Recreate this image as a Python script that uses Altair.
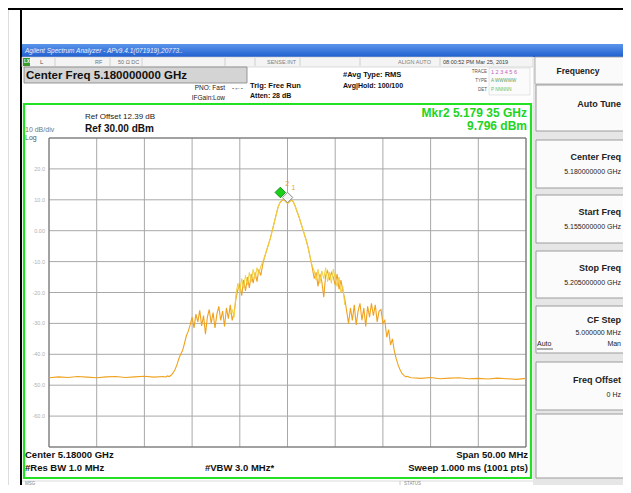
import altair as alt
import numpy as np
import pandas as pd

# ---------------- data ----------------
CENTER_GHZ = 5.18
SPAN_MHZ = 50.0
REF_DBM = 30.0
DB_PER_DIV = 10.0

# noise floor (1 MHz spacing) left and right of the signal
floor_left_offsets = [-25, -24, -23, -22, -21, -20, -19, -18, -17, -16, -15, -14, -13]
floor_left_levels = [-47.6, -47.3, -47.5, -47.2, -47.4, -47.6, -47.3, -47.2, -47.5, -47.3, -47.1, -47.4, -47.2]
floor_right_offsets = [13, 14, 15, 16, 17, 18, 19, 20, 21, 22, 23, 24, 25]
floor_right_levels = [-47.6, -47.8, -47.5, -47.9, -47.7, -47.6, -47.9, -47.8, -48.0, -47.7, -47.9, -48.1, -47.8]

# trace 1 (orange), -12.8 .. +12.8 MHz, 0.2 MHz spacing
trace_orange_levels = [
    -47.4, -47.0, -47.2, -46.8, -46.0, -45.0, -43.5, -41.5, -40.0, -38.8,   # -12.8 .. -11.0
    -36.5, -34.0, -32.5, -30.5, -28.0, -31.5, -27.0, -29.5, -25.8, -30.8,   # -10.8 .. -9.0
    -27.5, -33.5, -28.0, -25.5, -30.0, -26.5, -31.5, -27.0, -24.5, -29.0,   # -8.8 .. -7.0
    -26.0, -31.0, -25.0, -28.5, -24.0, -29.0, -26.5, -22.0, -19.0, -17.5,   # -6.8 .. -5.0
    -21.0, -16.0, -19.5, -15.0, -18.5, -14.0, -17.0, -13.5, -16.5, -12.5,   # -4.8 .. -3.0
    -14.5, -11.0, -8.5, -6.5, -4.5, -2.5, 0.0, 2.5, 5.0, 7.5,               # -2.8 .. -1.0
    9.0, 9.8, 10.0, 9.5, 8.8, 9.3, 9.9, 9.4, 8.0, 6.2,                      # -0.8 .. 1.0
    4.5, 2.5, 0.5, -1.5, -3.5, -6.0, -9.0, -12.0, -15.5, -13.5,             # 1.2 .. 3.0
    -18.0, -14.0, -16.5, -21.5, -14.5, -13.0, -16.0, -13.5, -15.0, -17.5,   # 3.2 .. 5.0
    -14.0, -19.0, -16.0, -19.5, -22.0, -26.0, -30.0, -25.0, -29.0, -24.0,   # 5.2 .. 7.0
    -30.5, -26.0, -23.5, -29.0, -25.0, -31.0, -24.5, -28.0, -23.5, -27.5,   # 7.2 .. 9.0
    -24.0, -29.5, -26.0, -25.5, -30.0, -29.0, -34.5, -32.0, -37.0, -35.0,   # 9.2 .. 11.0
    -39.0, -41.5, -43.5, -45.0, -46.2, -46.8, -47.3, -47.1, -47.5,          # 11.2 .. 12.8
]
# trace 2 (yellow), -6.0 .. +6.0 MHz, 0.2 MHz spacing
trace_yellow_levels = [
    -27.0, -25.5, -28.0, -20.5, -17.0, -20.0, -15.5, -18.5, -14.5, -17.5,   # -6.0 .. -4.2
    -13.5, -16.5, -12.5, -15.5, -12.0, -14.0, -11.5, -10.0, -8.5, -6.5,     # -4.0 .. -2.2
    -4.5, -2.5, 0.0, 2.5, 5.0, 7.5, 9.0, 9.8, 10.0, 9.5,                    # -2.0 .. -0.2
    8.8, 9.3, 9.9, 9.4, 8.0, 6.2, 4.5, 2.5, 0.5, -1.5,                      # 0.0 .. 1.8
    -3.5, -6.0, -9.0, -11.5, -13.0, -16.0, -12.5, -17.0, -13.0, -15.5,      # 2.0 .. 3.8
    -12.0, -16.5, -13.5, -17.0, -12.5, -15.5, -18.0, -15.0, -20.0, -18.0,   # 4.0 .. 5.8
    -24.0,                                                                  # 6.0
]

marker_names = ["1", "2"]
marker_freqs = [5.18000, 5.17935]
marker_levels = [8.8, 9.796]

y_tick_values = [20, 10, 0, -10, -20, -30, -40, -50, -60]
y_tick_labels = ["20.0", "10.0", "0.00", "-10.0", "-20.0", "-30.0", "-40.0", "-50.0", "-60.0"]
grid_x_offsets = [-25, -20, -15, -10, -5, 0, 5, 10, 15, 20, 25]
grid_y_values = [30, 20, 10, 0, -10, -20, -30, -40, -50, -60, -70]

# ---------------- tables ----------------
mid_offsets = list(np.round(-12.8 + 0.2 * np.arange(len(trace_orange_levels)), 1))
orange_df = pd.DataFrame({
    "freq": [CENTER_GHZ + o / 1000 for o in floor_left_offsets + mid_offsets + floor_right_offsets],
    "level": floor_left_levels + trace_orange_levels + floor_right_levels,
})
y_offsets = list(np.round(-6.0 + 0.2 * np.arange(len(trace_yellow_levels)), 1))
yellow_df = pd.DataFrame({
    "freq": [CENTER_GHZ + o / 1000 for o in y_offsets],
    "level": trace_yellow_levels,
})
marker_df = pd.DataFrame({"name": marker_names, "freq": marker_freqs, "level": marker_levels})
ytick_df = pd.DataFrame({"level": y_tick_values, "label": y_tick_labels})
gx_df = pd.DataFrame({"freq": [CENTER_GHZ + o / 1000 for o in grid_x_offsets]})
gy_df = pd.DataFrame({"level": grid_y_values})

ONE = pd.DataFrame({"k": [0]})

FONT = "Liberation Sans"
OFF = 8  # page margin


def P(v):
    return v - OFF


# plot area in page pixels
PX0, PX1, PY0, PY1 = 49, 526, 138, 447
xscale = alt.Scale(domain=[CENTER_GHZ - SPAN_MHZ / 2000, CENTER_GHZ + SPAN_MHZ / 2000],
                   range=[P(PX0), P(PX1)], nice=False, zero=False)
yscale = alt.Scale(domain=[REF_DBM - 10 * DB_PER_DIV, REF_DBM], range=[P(PY1), P(PY0)],
                   nice=False, zero=False)


def rect(x0, y0, x1, y1, fill="transparent", stroke=None, sw=1.0):
    kw = dict(fill=fill, strokeWidth=sw)
    if stroke:
        kw["stroke"] = stroke
    return alt.Chart(ONE).mark_rect(**kw).encode(
        x=alt.value(P(x0)), x2=alt.value(P(x1)), y=alt.value(P(y0)), y2=alt.value(P(y1)))


def line(x0, y0, x1, y1, color="#000000", sw=1.0):
    return alt.Chart(ONE).mark_rule(color=color, strokeWidth=sw).encode(
        x=alt.value(P(x0)), x2=alt.value(P(x1)), y=alt.value(P(y0)), y2=alt.value(P(y1)))


def text(x, y, s, size=8, color="#000000", bold=False, align="left", italic=False, font=FONT):
    kw = dict(text=s, fontSize=size, color=color, align=align, baseline="middle", font=font)
    if bold:
        kw["fontWeight"] = "bold"
    if italic:
        kw["fontStyle"] = "italic"
    return alt.Chart(ONE).mark_text(**kw).encode(x=alt.value(P(x)), y=alt.value(P(y)))


layers = []

# outer frame
layers.append(line(21, 8, 21, 493, "#000000", 2))
layers.append(line(8, 9, 631, 9, "#000000", 2))

# title bar
title_grad = alt.Gradient(gradient="linear", x1=0, x2=0, y1=0, y2=1,
                          stops=[alt.GradientStop(color="#5b95ea", offset=0),
                                 alt.GradientStop(color="#1f5fcf", offset=1)])
layers.append(alt.Chart(ONE).mark_rect(fill=title_grad).encode(
    x=alt.value(P(22)), x2=alt.value(P(631)), y=alt.value(P(44)), y2=alt.value(P(57))))
layers.append(text(25, 50.5, "Agilent Spectrum Analyzer - APv9.4.1(071919),20773..", 6.5, "#e8f0ff", italic=True))

# status row
layers.append(rect(22, 57, 533, 67, "#f4f4f4", "#c8c8c8", 0.6))
layers.append(rect(23, 58, 30, 66, "#3a9a2a"))
layers.append(text(24, 62, "LXI", 4.5, "#ffffff", bold=True))
layers.append(text(40, 62, "L", 6, "#505050"))
layers.append(text(95, 62, "RF", 5.5, "#707070"))
layers.append(text(118, 62, "50 Ω   DC", 5.5, "#707070"))
for sx in [55, 110, 142, 225, 255, 300, 360, 440]:
    layers.append(line(sx, 58, sx, 66, "#c0c0c0", 0.7))
layers.append(text(267, 62, "SENSE:INT", 5.5, "#808080"))
layers.append(text(398, 62, "ALIGN AUTO", 5.5, "#808080"))
layers.append(text(443, 62, "08:00:52 PM Mar 25, 2019", 5.5, "#404040"))

# center freq box
layers.append(rect(24, 67, 247, 83, "#d4d4d4", "#808080", 0.8))
layers.append(text(26, 75.5, "Center Freq 5.180000000 GHz", 11.5, "#111111", bold=True))

layers.append(text(225, 88, "PNO: Fast", 6.5, "#222222", align="right"))
layers.append(text(232, 88, "-←-", 6.5, "#222222"))
layers.append(text(225, 97.5, "IFGain:Low", 6.5, "#222222", align="right"))
layers.append(text(250, 86, "Trig: Free Run", 7.5, "#111111", bold=True))
layers.append(text(250, 96, "Atten: 28 dB", 7, "#111111", bold=True))
layers.append(text(343, 75, "#Avg Type: RMS", 7.5, "#111111", bold=True))
layers.append(text(343, 86, "Avg|Hold: 100/100", 7, "#111111", bold=True))
layers.append(text(487, 72, "TRACE", 4.5, "#555555", align="right"))
layers.append(text(487, 81, "TYPE", 4.5, "#555555", align="right"))
layers.append(text(487, 90, "DET", 4.5, "#555555", align="right"))
layers.append(rect(489, 68, 530, 95, "#fbfbfb", "#c8c8c8", 0.5))
layers.append(text(491, 72, "1 2 3 4 5 6", 5.5, "#c060c0"))
layers.append(text(491, 81, "A WWWWW", 4.5, "#60a060"))
layers.append(text(491, 90, "P NNNNN", 4.5, "#60c060"))

# right soft-key panel
layers.append(rect(533, 57, 631, 493, "#e6e6e6"))
layers.append(rect(535, 57, 631, 84, "#fafafa", "#a0a0a0", 0.8))
layers.append(text(578, 71, "Frequency", 8.5, "#222222", bold=True, align="center"))
buttons = [(85, 131), (140, 188), (195, 243), (251, 298), (306, 353), (362, 410), (414, 478)]
for (b0, b1) in buttons:
    layers.append(rect(536, b0, 631, b1, "#fbfbfb", "#9c9c9c", 1))
layers.append(text(621, 104, "Auto Tune", 9, "#222222", bold=True, align="right"))
layers.append(text(621, 157, "Center Freq", 9, "#222222", bold=True, align="right"))
layers.append(text(621, 172, "5.180000000 GHz", 7, "#222222", align="right"))
layers.append(text(621, 212, "Start Freq", 9, "#222222", bold=True, align="right"))
layers.append(text(621, 227, "5.155000000 GHz", 7, "#222222", align="right"))
layers.append(text(621, 268, "Stop Freq", 9, "#222222", bold=True, align="right"))
layers.append(text(621, 283, "5.205000000 GHz", 7, "#222222", align="right"))
layers.append(text(621, 320, "CF Step", 9, "#222222", bold=True, align="right"))
layers.append(text(621, 333, "5.000000 MHz", 7, "#222222", align="right"))
layers.append(text(537, 344, "Auto", 7, "#222222"))
layers.append(line(537, 349, 553, 349, "#222222", 0.7))
layers.append(text(621, 344, "Man", 7, "#222222", align="right"))
layers.append(text(621, 380, "Freq Offset", 9, "#222222", bold=True, align="right"))
layers.append(text(621, 395, "0 Hz", 7, "#222222", align="right"))

# green display frame
layers.append(rect(24, 104, 531, 478, "transparent", "#22e022", 2.2))

# header texts in display
layers.append(text(527, 113, "Mkr2 5.179 35 GHz", 12, "#22d422", bold=True, align="right"))
layers.append(text(527, 126, "9.796 dBm", 12, "#22d422", bold=True, align="right"))
layers.append(text(85, 117, "Ref Offset 12.39 dB", 8, "#222222"))
layers.append(text(85, 129, "Ref 30.00 dBm", 10, "#111111", bold=True))
layers.append(text(25, 130, "10 dB/div", 7, "#777777"))
layers.append(text(25, 138, "Log", 7, "#555555"))

# grid
layers.append(alt.Chart(gx_df).mark_rule(color="#a8a8a8", strokeWidth=1).encode(
    x=alt.X("freq:Q", scale=xscale, axis=None), y=alt.value(P(PY0)), y2=alt.value(P(PY1))))
layers.append(alt.Chart(gy_df).mark_rule(color="#a8a8a8", strokeWidth=1).encode(
    y=alt.Y("level:Q", scale=yscale, axis=None), x=alt.value(P(PX0)), x2=alt.value(P(PX1))))
layers.append(rect(PX0, PY0, PX1, PY1, "transparent", "#707070", 1))

# y labels
layers.append(alt.Chart(ytick_df).mark_text(align="right", baseline="middle", fontSize=5.5,
                                            color="#b0b0b0", font=FONT).encode(
    y=alt.Y("level:Q", scale=yscale, axis=None), x=alt.value(P(45)), text="label:N"))

# traces
layers.append(alt.Chart(orange_df).mark_line(color="#f0a21e", strokeWidth=1.1, interpolate="linear").encode(
    x=alt.X("freq:Q", scale=xscale, axis=None), y=alt.Y("level:Q", scale=yscale, axis=None)))
layers.append(alt.Chart(yellow_df).mark_line(color="#f2d040", strokeWidth=1.0, interpolate="linear").encode(
    x=alt.X("freq:Q", scale=xscale, axis=None), y=alt.Y("level:Q", scale=yscale, axis=None)))

# markers
mk_base = alt.Chart(marker_df).encode(
    x=alt.X("freq:Q", scale=xscale, axis=None), y=alt.Y("level:Q", scale=yscale, axis=None))
layers.append(mk_base.transform_filter(alt.datum.name == "1").mark_point(
    shape="diamond", size=110, filled=True, fill="#f4f4f4", stroke="#8a8a8a", strokeWidth=1, yOffset=-6, opacity=1))
layers.append(mk_base.transform_filter(alt.datum.name == "2").mark_point(
    shape="diamond", size=110, filled=True, fill="#18d018", stroke="#0a7a0a", strokeWidth=0.8, yOffset=-8, xOffset=-1, opacity=1))
layers.append(mk_base.mark_text(fontSize=7, color="#f0a21e", font=FONT, dx=6, dy=-16).encode(text="name:N"))

# bottom texts
layers.append(text(25, 455, "Center 5.18000 GHz", 9.5, "#111111", bold=True))
layers.append(text(25, 468, "#Res BW 1.0 MHz", 9.5, "#111111", bold=True))
layers.append(text(205, 468, "#VBW 3.0 MHz*", 9.5, "#111111", bold=True))
layers.append(text(528, 455, "Span 50.00 MHz", 9.5, "#111111", bold=True, align="right"))
layers.append(text(528, 468, "Sweep  1.000 ms (1001 pts)", 9.5, "#111111", bold=True, align="right"))

# message / status bar
layers.append(line(22, 481, 533, 481, "#d0d0d0", 0.8))
layers.append(text(25, 484, "MSG", 4.5, "#888888"))
layers.append(line(400, 481, 400, 485, "#c0c0c0", 0.8))
layers.append(text(404, 484, "STATUS", 4.5, "#888888"))

chart = alt.layer(*layers).properties(
    width=615, height=477, autosize="none", padding=0
).configure_view(stroke=None).configure(background="#ffffff")

chart.save("out.html", embed_options={"renderer": "svg", "actions": False})
